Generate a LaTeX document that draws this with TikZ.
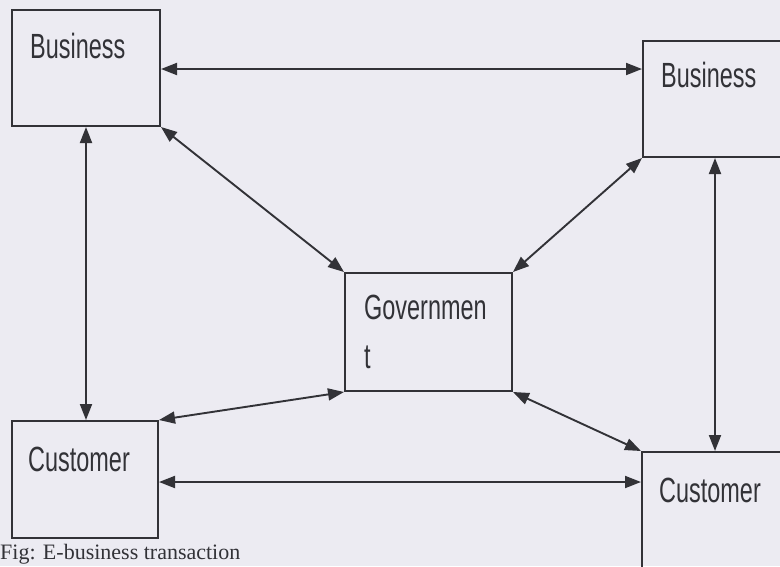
\documentclass[tikz,border=0pt]{standalone}
\usepackage{fontspec}
\setmainfont{Liberation Serif}
\newfontfamily\labfont[FakeStretch=0.67]{Liberation Sans}
\usetikzlibrary{arrows.meta}
\definecolor{bgc}{RGB}{236,235,242}
\definecolor{ink}{RGB}{50,50,55}
\tikzset{
  box/.style={draw=ink, line width=2pt, fill=none, inner sep=0pt},
  lab/.style={anchor=base west, inner sep=0pt, text=ink, font=\labfont\fontsize{35}{45}\selectfont},
  link/.style={draw=ink, line width=1.9pt, {Triangle[length=16pt,width=12pt]}-{Triangle[length=16pt,width=12pt]}},
}
\begin{document}
\begin{tikzpicture}[x=1pt,y=-1pt]
\fill[bgc] (0,0) rectangle (780,566);
\useasboundingbox (0,0) rectangle (780,566);
\clip (0,0) rectangle (780,566);
% boxes
\node[box, minimum width=148pt, minimum height=116pt] (b1) at (86,68) {};
\node[box, minimum width=160pt, minimum height=116pt] (b2) at (723,99) {};
\node[box, minimum width=167pt, minimum height=118pt] (g) at (428.5,332) {};
\node[box, minimum width=146pt, minimum height=117pt] (c1) at (85,479.5) {};
\node[box, minimum width=160pt, minimum height=130pt] (c2) at (722,517) {};
% labels
\node[lab] (tb1) at (30,58) {Business};
\node[lab] (tb2) at (661,87) {Business};
\node[lab, align=left, anchor=north west, text width=140pt, font=\labfont\fontsize{35}{49}\selectfont] (tg) at (364,295) {Governmen\\t};
\node[lab] (tc1) at (28,471) {Customer};
\node[lab] (tc2) at (659,502) {Customer};
% connectors
\draw[link] ([yshift=-1pt]b1.east) -- ([yshift=-1pt]b1.east -| b2.west);
\draw[link] (b1.south) -- (b1.south |- c1.north);
\draw[link] (b1.south east) -- (g.north west);
\draw[link] (b2.south west) -- (g.north east);
\draw[link] ([xshift=73pt]b2.south west) -- ([xshift=73pt]b2.south west |- c2.north);
\draw[link] (g.south west) -- (c1.north east);
\draw[link] (g.south east) -- (c2.north west);
\draw[link] ([yshift=-2.5pt]c1.east) -- ([yshift=-2.5pt]c1.east -| c2.west);
% caption
\node[anchor=base west, inner sep=0pt, text=ink, font=\fontsize{22}{26}\selectfont] (cap) at (0,559) {Fig: E-business transaction};
\end{tikzpicture}
\end{document}
